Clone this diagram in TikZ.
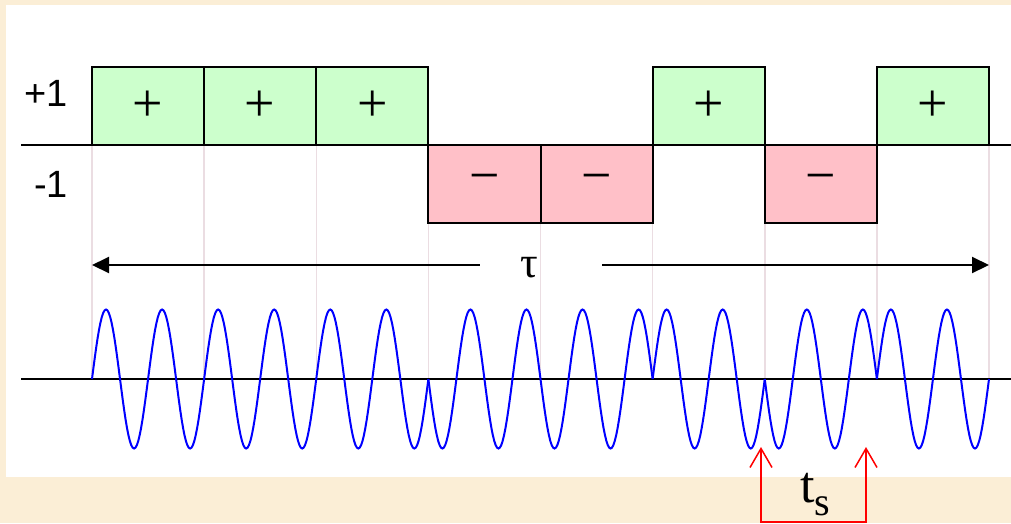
\documentclass[tikz,border=0pt]{standalone}
\usepackage{fontspec}
\setmainfont{Liberation Serif}
\newfontfamily\labelfont{Liberation Sans}
\usetikzlibrary{arrows.meta, calc}
\definecolor{chipPlus}{HTML}{CCFFCC}
\definecolor{chipMinus}{HTML}{FFC0C8}
\definecolor{gridPink}{HTML}{EBDDE2}
\definecolor{paperBeige}{HTML}{FBEED6}
\definecolor{waveBlue}{HTML}{0000FF}

\begin{document}
\begin{tikzpicture}[x=1pt,y=-1pt,
  chip/.style={draw=black, line width=2pt, minimum width=112.125pt, minimum height=77.5pt, inner sep=0pt, font=\fontsize{54}{54}\selectfont},
  level/.style={font=\labelfont\fontsize{38}{38}\selectfont, anchor=east, inner sep=0pt},
  axis/.style={line width=2pt},
  wave/.style={waveBlue, line width=2pt},
  tauarrow/.style={line width=2pt, -{Triangle[length=17pt,width=16pt]}},
  tsmark/.style={red, line width=1.5pt, {Straight Barb[length=19pt,width=22pt]}-{Straight Barb[length=19pt,width=22pt]}}]

\useasboundingbox (0,0) rectangle (1011,523);
\fill[paperBeige] (0,0) rectangle (1011,523);
\fill[white] (6,5) rectangle (1011,477);

% chip edges down to the carrier axis
\foreach \k in {0,...,8}
  \draw[gridPink, line width=1.5pt] ({92+\k*112.125},145) -- ({92+\k*112.125},379);

% chip sequence
\foreach \v [count=\i] in {1,1,1,-1,-1,1,-1,1} {
  \ifnum\v>0
    \node[chip, fill=chipPlus] (chip\i) at ({92+(\i-0.5)*112.125},106) {+};
  \else
    \node[chip, fill=chipMinus] (chip\i) at ({92+(\i-0.5)*112.125},184) {−};
  \fi
}
\draw[axis] (21,145) -- (1011,145);
\node[level] (plusone) at (68,93) {+1};
\node[level] (minusone) at (68,184) {-1};

% code period
\node[font=\fontsize{44}{44}\selectfont, inner sep=0pt, anchor=base] (tau) at (529,277) {τ};
\coordinate (tauL) at (92,265);
\coordinate (tauR) at (989,265);
\draw[tauarrow] ($(tau.west |- tauL)+(-40,0)$) -- (tauL);
\draw[tauarrow] ($(tau.east |- tauR)+(64,0)$) -- (tauR);

% modulated carrier, two cycles per chip
\draw[axis] (21,379) -- (1011,379);
\foreach \v [count=\i] in {1,1,1,-1,-1,1,-1,1}
  \draw[wave] plot[domain=0:112.125, samples=81] ({92+(\i-1)*112.125+\x},{379-69.5*(\v)*sin(6.4214*\x)});

% sample spacing
\coordinate (tsLtip) at (761,447);
\coordinate (tsLfoot) at (761,522);
\coordinate (tsRfoot) at (866,522);
\coordinate (tsRtip) at (866,447);
\draw[tsmark] (tsLtip) -- (tsLfoot) -- (tsRfoot) -- (tsRtip);
\node[inner sep=0pt, anchor=base west] (ts) at (800,502) {\fontsize{52}{52}\selectfont t\raisebox{-13pt}{\fontsize{40}{40}\selectfont s}};
\end{tikzpicture}
\end{document}
